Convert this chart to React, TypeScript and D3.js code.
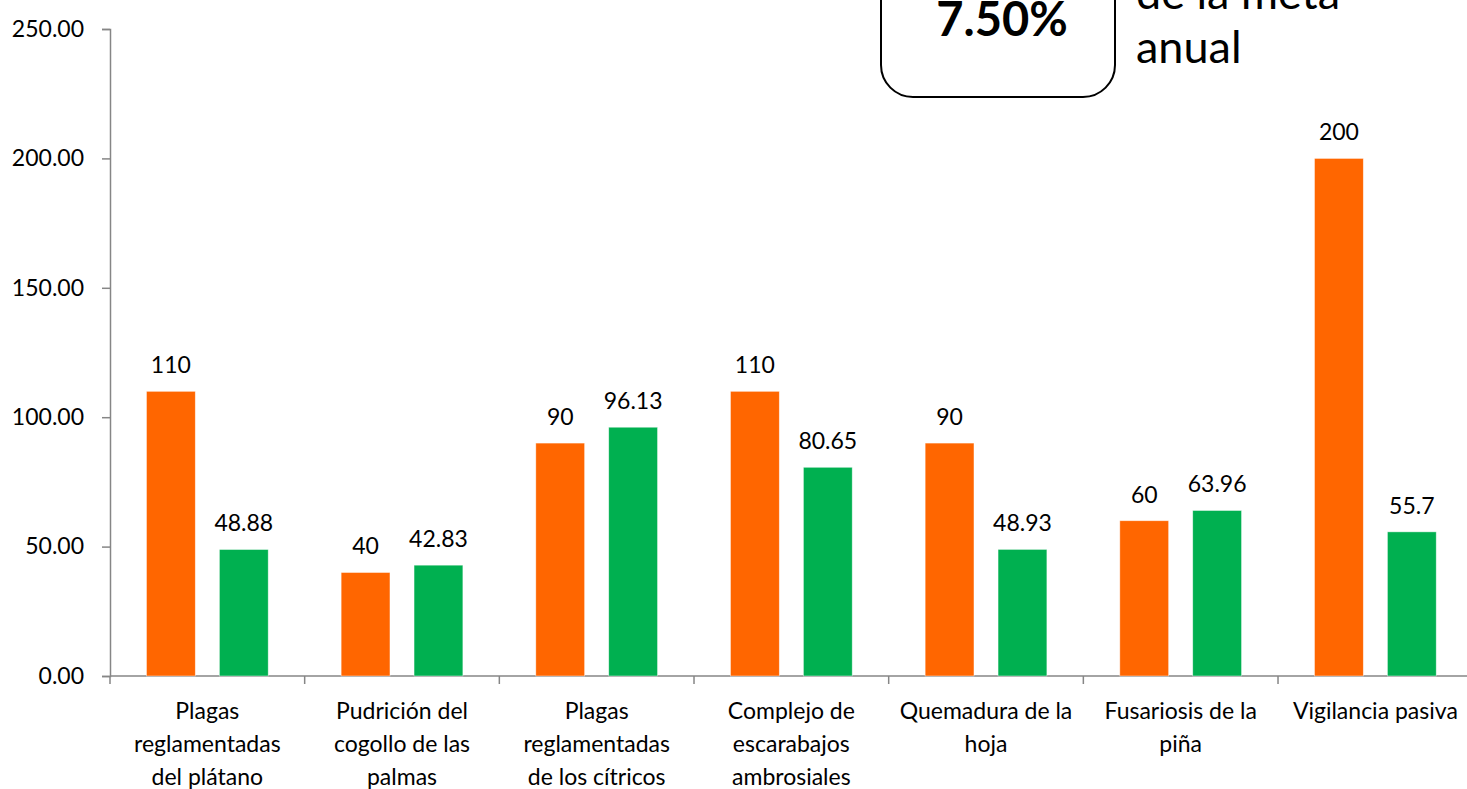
import React, { useEffect, useRef } from 'react';
import * as d3 from 'd3';

const categories: string[][] = [
  ['Plagas', 'reglamentadas', 'del plátano'],
  ['Pudrición del', 'cogollo de las', 'palmas'],
  ['Plagas', 'reglamentadas', 'de los cítricos'],
  ['Complejo de', 'escarabajos', 'ambrosiales'],
  ['Quemadura de la', 'hoja'],
  ['Fusariosis de la', 'piña'],
  ['Vigilancia pasiva'],
];
const metaValues = [110, 40, 90, 110, 90, 60, 200];
const avanceValues = [48.88, 42.83, 96.13, 80.65, 48.93, 63.96, 55.7];
const yTicks = [0, 50, 100, 150, 200, 250];
const boxValue = '7.50%';
const sideText = ['de la meta', 'anual'];

const W = 1467;
const H = 789;
const FONT = 'Lato, "Open Sans", sans-serif';

const App: React.FC = () => {
  const svgRef = useRef<SVGSVGElement>(null);

  useEffect(() => {
    if (!svgRef.current) return;
    const svg = d3.select(svgRef.current);
    svg.selectAll('*').remove();

    const left = 110;
    const step = 194.67;
    const keys = categories.map((_, i) => String(i));

    const x = d3.scaleBand<string>()
      .domain(keys)
      .range([left, left + step * keys.length])
      .paddingInner(0)
      .paddingOuter(0);

    const sub = d3.scaleBand<string>()
      .domain(['meta', 'avance'])
      .range([0, x.bandwidth()])
      .paddingInner(0.33)
      .paddingOuter(0.5);

    const y = d3.scaleLinear().domain([0, 250]).range([676, 29]);

    // y axis
    const yAxis = d3.axisLeft(y)
      .tickValues(yTicks)
      .tickFormat(d3.format('.2f'))
      .tickSize(8)
      .tickPadding(18);

    const gy = svg.append('g')
      .attr('transform', `translate(${left},0)`)
      .call(yAxis);
    gy.select('.domain').attr('stroke', '#868686').attr('stroke-width', 1.5);
    gy.selectAll('.tick line').attr('stroke', '#868686').attr('stroke-width', 1.5);
    gy.selectAll('.tick text')
      .attr('fill', '#000')
      .style('font-family', FONT)
      .style('font-size', '23px');

    // x axis line + boundary ticks
    const gx = svg.append('g');
    gx.append('line')
      .attr('x1', left).attr('x2', W)
      .attr('y1', y(0)).attr('y2', y(0))
      .attr('stroke', '#868686').attr('stroke-width', 1.5);
    keys.forEach(k => {
      const bx = x(k)!;
      gx.append('line')
        .attr('x1', bx).attr('x2', bx)
        .attr('y1', y(0)).attr('y2', y(0) + 8)
        .attr('stroke', '#868686').attr('stroke-width', 1.5);
    });

    // category labels
    categories.forEach((lines, i) => {
      const cx = x(String(i))! + x.bandwidth() / 2;
      const t = svg.append('text')
        .attr('text-anchor', 'middle')
        .style('font-family', FONT)
        .style('font-size', '23px')
        .attr('fill', '#000');
      lines.forEach((ln, j) => {
        t.append('tspan').attr('x', cx).attr('y', 719 + j * 33).text(ln);
      });
    });

    // bars
    const series = [
      { key: 'meta', values: metaValues, color: '#FF6600' },
      { key: 'avance', values: avanceValues, color: '#00B050' },
    ];
    series.forEach(s => {
      const g = svg.append('g');
      g.selectAll('rect')
        .data(s.values)
        .enter()
        .append('rect')
        .attr('x', (_, i) => x(String(i))! + sub(s.key)!)
        .attr('y', d => y(d))
        .attr('width', sub.bandwidth())
        .attr('height', d => y(0) - y(d))
        .attr('fill', s.color)
        .attr('stroke', '#ffffff')
        .attr('stroke-opacity', 0.6)
        .attr('stroke-width', 0.75);
      g.selectAll('text')
        .data(s.values)
        .enter()
        .append('text')
        .attr('x', (_, i) => x(String(i))! + sub(s.key)! + sub.bandwidth() / 2)
        .attr('y', d => y(d) - 18)
        .attr('text-anchor', 'middle')
        .style('font-family', FONT)
        .style('font-size', '23px')
        .attr('fill', '#000')
        .text(d => String(d));
    });

    // callout box (top is cut off by the page edge, as in the source)
    svg.append('rect')
      .attr('x', 881)
      .attr('y', -80)
      .attr('width', 234)
      .attr('height', 177)
      .attr('rx', 32)
      .attr('fill', '#fff')
      .attr('stroke', '#000')
      .attr('stroke-width', 2);
    svg.append('text')
      .attr('x', 1002)
      .attr('y', 36)
      .attr('text-anchor', 'middle')
      .style('font-family', FONT)
      .style('font-size', '47px')
      .style('font-weight', 'bold')
      .attr('fill', '#000')
      .text(boxValue);
    sideText.forEach((s, i) => {
      svg.append('text')
        .attr('x', 1136)
        .attr('y', 9 + i * 54)
        .style('font-family', FONT)
        .style('font-size', '45px')
        .attr('fill', '#000')
        .text(s);
    });
  }, []);

  return (
    <div style={{ position: 'absolute', left: 0, top: 0, width: W, height: H, overflow: 'hidden', background: '#fff' }}>
      <svg ref={svgRef} width={W} height={H} style={{ display: 'block' }} />
    </div>
  );
};

export default App;
